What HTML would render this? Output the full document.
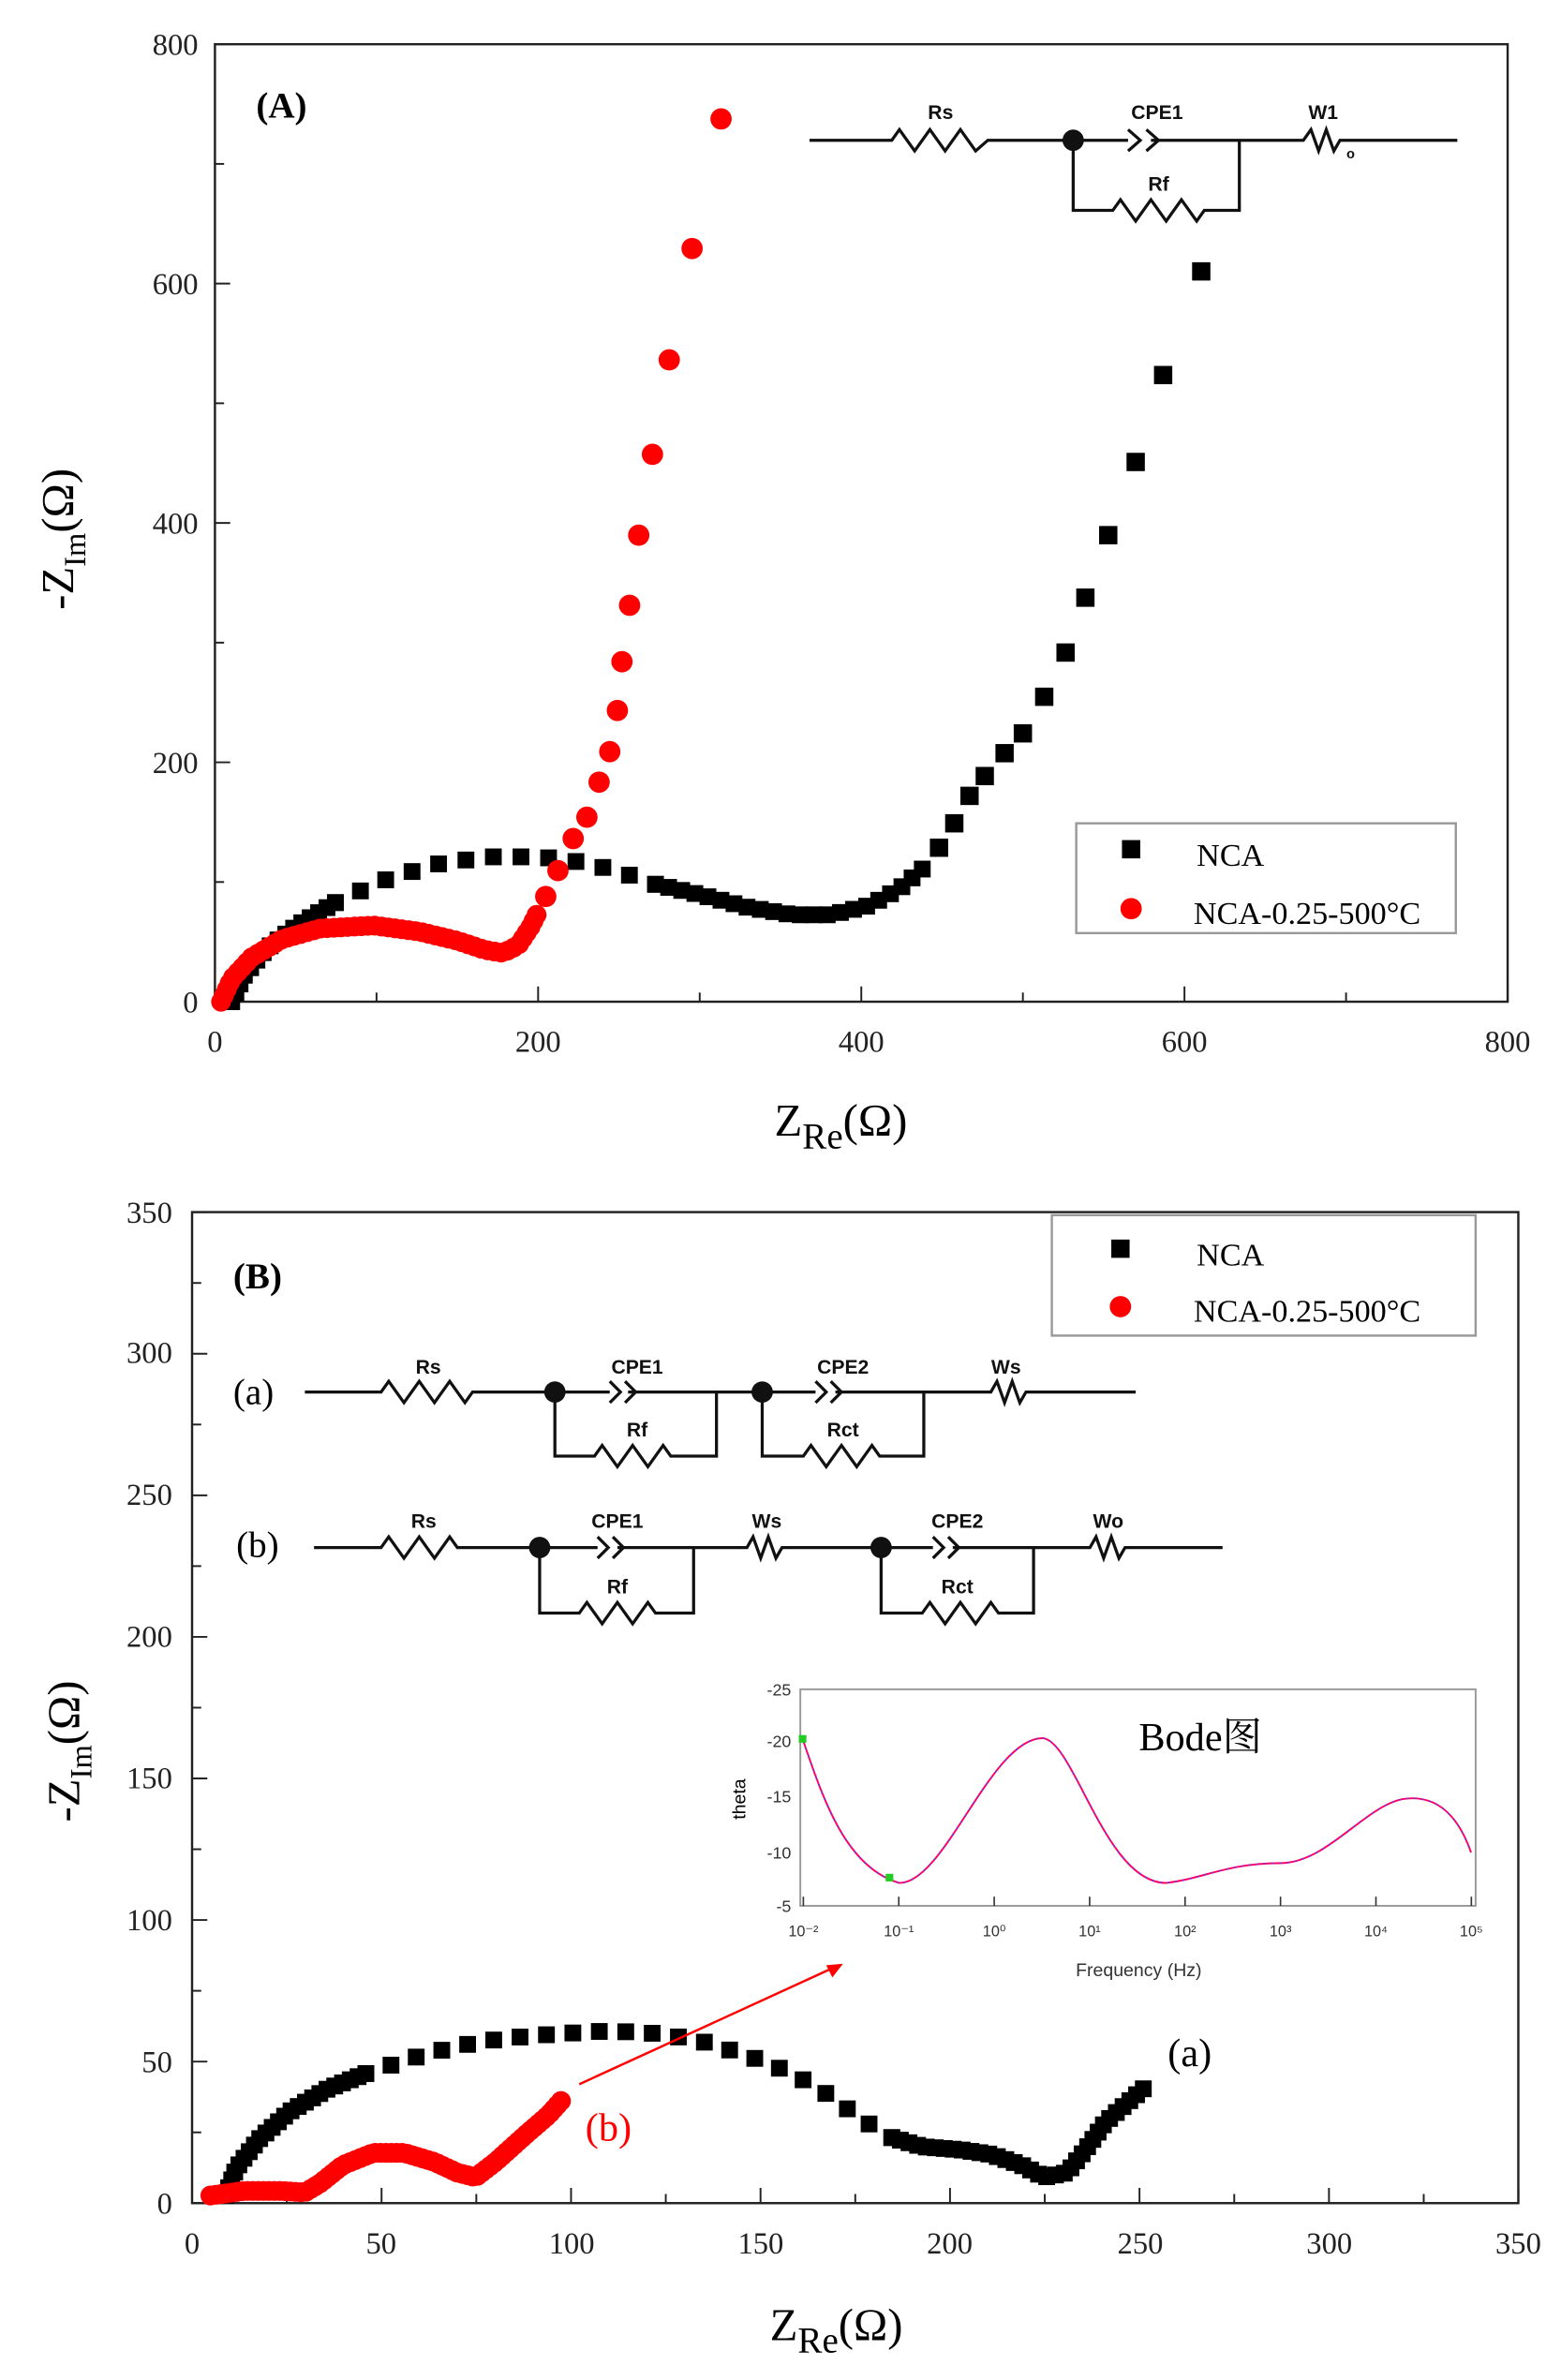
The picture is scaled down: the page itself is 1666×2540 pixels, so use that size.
<!DOCTYPE html>
<html><head><meta charset="utf-8"><style>html,body{margin:0;padding:0;background:#fff}svg{display:block}</style></head>
<body>
<svg id="s" width="1666" height="2540" viewBox="0 0 1024 1561" preserveAspectRatio="none" xmlns="http://www.w3.org/2000/svg" font-family="Liberation Serif, serif">
<rect width="1024" height="1561" fill="#fff"/>
<!-- Panel A -->
<rect x="141" y="29" width="848" height="628" fill="none" stroke="#222" stroke-width="1.5"/>
<g font-size="20" fill="#222" text-anchor="end">
<text x="130" y="664">0</text><text x="130" y="507">200</text><text x="130" y="350">400</text><text x="130" y="193">600</text><text x="130" y="36">800</text></g>
<g font-size="20" fill="#222" text-anchor="middle">
<text x="141" y="690">0</text><text x="353" y="690">200</text><text x="565" y="690">400</text><text x="777" y="690">600</text><text x="989" y="690">800</text></g>
<g stroke="#222" stroke-width="1.2" id="ticksA"></g>
<text x="168" y="77" font-size="24" font-weight="bold">(A)</text>
<text transform="translate(48,400) rotate(-90)" font-size="30">-Z<tspan font-size="20" dy="8">Im</tspan><tspan dy="-8">(Ω)</tspan></text>
<text x="508" y="745" font-size="30">Z<tspan font-size="24" dy="8">Re</tspan><tspan dy="-8">(Ω)</tspan></text>
<g stroke="#111" stroke-width="2" fill="none">
<path d="M531 92H585l5 -7l10 14l10 -14l10 14l10 -14l10 14l8 -7H740"/>
<path d="M740 85l8 7l-8 7M752 85l8 7l-8 7"/>
<path d="M755 92H855l5 -7l5 14l5 -14l5 14l4 -7H956"/>
<path d="M704 92V138H730l5 -7l10 14l10 -14l10 14l10 -14l10 14l5 -7H813V92"/>
</g>
<circle cx="704" cy="92" r="7" fill="#111"/>
<g font-family="Liberation Sans, sans-serif" font-weight="bold" font-size="13" fill="#111" text-anchor="middle">
<text x="617" y="78">Rs</text><text x="759" y="78">CPE1</text><text x="760" y="125">Rf</text><text x="868" y="78">W1</text><text x="886" y="104" font-size="9">o</text></g>
<rect x="706" y="540" width="249" height="72" fill="#fff" stroke="#999" stroke-width="1.5"/>
<rect x="736" y="551" width="12" height="12" fill="#000"/>
<circle cx="742" cy="596" r="7" fill="#f00"/>
<text x="785" y="568" font-size="21">NCA</text>
<text x="783" y="606" font-size="21">NCA-0.25-500°C</text>
<g id="A"></g>
<!-- Panel B -->
<rect x="126" y="795" width="870" height="650" fill="none" stroke="#222" stroke-width="1.5"/>
<g font-size="20" fill="#222" text-anchor="end">
<text x="113" y="1452">0</text><text x="113" y="1359">50</text><text x="113" y="1266">100</text><text x="113" y="1173">150</text><text x="113" y="1080">200</text><text x="113" y="987">250</text><text x="113" y="894">300</text><text x="113" y="802">350</text></g>
<g font-size="20" fill="#222" text-anchor="middle">
<text x="126" y="1478">0</text><text x="250" y="1478">50</text><text x="375" y="1478">100</text><text x="499" y="1478">150</text><text x="623" y="1478">200</text><text x="748" y="1478">250</text><text x="872" y="1478">300</text><text x="996" y="1478">350</text></g>
<g stroke="#222" stroke-width="1.2" id="ticksB"></g>
<text x="153" y="845" font-size="24" font-weight="bold">(B)</text>
<text transform="translate(52,1195) rotate(-90)" font-size="30">-Z<tspan font-size="20" dy="8">Im</tspan><tspan dy="-8">(Ω)</tspan></text>
<text x="505" y="1535" font-size="30">Z<tspan font-size="24" dy="8">Re</tspan><tspan dy="-8">(Ω)</tspan></text>
<rect x="690" y="797" width="278" height="79" fill="#fff" stroke="#999" stroke-width="1.5"/>
<rect x="729" y="813" width="12" height="12" fill="#000"/>
<circle cx="735" cy="857" r="7" fill="#f00"/>
<text x="785" y="830" font-size="21">NCA</text>
<text x="783" y="867" font-size="21">NCA-0.25-500°C</text>
<text x="153" y="921" font-size="24">(a)</text>
<text x="155" y="1021" font-size="24">(b)</text>
<g stroke="#111" stroke-width="2" fill="none">
<path d="M200 913H250l5 -7l10 14l10 -14l10 14l10 -14l10 14l5 -7H400M400 906l7 7l-7 7M410 906l7 7l-7 7M412 913H535M535 906l7 7l-7 7M545 906l7 7l-7 7M548 913H650l4 -7l5 14l5 -14l5 14l4 -7H745"/>
<path d="M364 913V955H390l5 -7l10 14l10 -14l10 14l10 -14l5 7H470V913"/>
<path d="M500 913V955H527l5 -7l10 14l10 -14l10 14l10 -14l5 7H606V913"/>
<path d="M206 1015H250l5 -7l10 14l10 -14l10 14l10 -14l5 7H392M392 1008l7 7l-7 7M402 1008l7 7l-7 7M405 1015H490l4 -7l5 14l5 -14l5 14l4 -7H612M612 1008l7 7l-7 7M622 1008l7 7l-7 7M625 1015H715l4 -7l5 14l5 -14l5 14l4 -7H802"/>
<path d="M354 1015V1058H380l5 -7l10 14l10 -14l10 14l10 -14l5 7H455V1015"/>
<path d="M578 1015V1058H605l5 -7l10 14l10 -14l10 14l10 -14l5 7H678V1015"/>
</g>
<g fill="#111"><circle cx="364" cy="913" r="7"/><circle cx="500" cy="913" r="7"/><circle cx="354" cy="1015" r="7"/><circle cx="578" cy="1015" r="7"/></g>
<g font-family="Liberation Sans, sans-serif" font-weight="bold" font-size="13" fill="#111" text-anchor="middle">
<text x="281" y="901">Rs</text><text x="418" y="901">CPE1</text><text x="418" y="942">Rf</text><text x="553" y="901">CPE2</text><text x="553" y="942">Rct</text><text x="660" y="901">Ws</text>
<text x="278" y="1002">Rs</text><text x="405" y="1002">CPE1</text><text x="405" y="1045">Rf</text><text x="503" y="1002">Ws</text><text x="628" y="1002">CPE2</text><text x="628" y="1045">Rct</text><text x="727" y="1002">Wo</text></g>
<!-- Bode inset -->
<rect x="525" y="1108" width="443" height="142" fill="#fff" stroke="#999" stroke-width="1.2"/>
<g font-family="Liberation Sans, sans-serif" font-size="11" fill="#333" text-anchor="end">
<text x="519" y="1112">-25</text><text x="519" y="1146">-20</text><text x="519" y="1182">-15</text><text x="519" y="1219">-10</text><text x="519" y="1254">-5</text></g>
<g font-family="Liberation Sans, sans-serif" font-size="10" fill="#333" text-anchor="middle" id="bx"></g>
<text transform="translate(489,1180) rotate(-90)" font-family="Liberation Sans, sans-serif" font-size="12" text-anchor="middle">theta</text>
<text x="747" y="1296" font-family="Liberation Sans, sans-serif" font-size="12" text-anchor="middle" fill="#333">Frequency (Hz)</text>
<text x="747" y="1148" font-size="26" font-family="Liberation Serif, Noto Serif CJK SC, serif">Bode图</text>
<path d="M527 1142 C540 1180,555 1225,590 1235 C620 1235,650 1140,684 1140 C705 1142,725 1235,765 1235 C790 1232,805 1222,840 1222 C870 1222,895 1185,920 1180 C945 1176,958 1195,965 1215" fill="none" stroke="#f06" stroke-width="1.2"/>
<path d="M527 1142 C540 1180,555 1225,590 1235 C620 1235,650 1140,684 1140 C705 1142,725 1235,765 1235 C790 1232,805 1222,840 1222 C870 1222,895 1185,920 1180 C945 1176,958 1195,965 1215" fill="none" stroke="#44f" stroke-width="1" stroke-dasharray="1 4"/>
<rect x="524" y="1138" width="5" height="5" fill="#2c2"/><rect x="581" y="1229" width="5" height="5" fill="#2c2"/>
<g id="B"></g>
<line x1="380" y1="1367" x2="548" y2="1290" stroke="#f00" stroke-width="1.5"/>
<path d="M553 1288 L542 1289 L546 1297Z" fill="#f00"/>
<text x="384" y="1404" font-size="26" fill="#f00">(b)</text>
<text x="766" y="1355" font-size="26">(a)</text>
</svg>
<script>
var NS="http://www.w3.org/2000/svg";
function el(p,t,a){var e=document.createElementNS(NS,t);for(var k in a)e.setAttribute(k,a[k]);document.getElementById(p).appendChild(e);}
function seg(g,pts,n,type,sz){
 var L=[0];for(var i=1;i<pts.length;i++){L.push(L[i-1]+Math.hypot(pts[i][0]-pts[i-1][0],pts[i][1]-pts[i-1][1]));}
 var T=L[L.length-1];
 for(var j=0;j<n;j++){var d=T*j/(n-1);var i=1;while(i<pts.length-1&&L[i]<d)i++;
  var f=(d-L[i-1])/((L[i]-L[i-1])||1);var x=pts[i-1][0]+f*(pts[i][0]-pts[i-1][0]),y=pts[i-1][1]+f*(pts[i][1]-pts[i-1][1]);
  if(type=='s')el(g,'rect',{x:x-sz/2,y:y-sz/2,width:sz,height:sz,fill:'#000'});else el(g,'circle',{cx:x,cy:y,r:sz,fill:'#f00'});}
}
for(var v=0;v<=800;v+=100){var px=141+v*1.06;el('ticksA','line',{x1:px,y1:657,x2:px,y2:v%200?651:647});var py=657-v*0.785;el('ticksA','line',{x1:141,y1:py,x2:v%200?147:151,y2:py});}
for(var v=0;v<=350;v+=25){var px=126+v*2.486;el('ticksB','line',{x1:px,y1:1445,x2:px,y2:v%50?1439:1435});var py=1445-v*1.857;el('ticksB','line',{x1:126,y1:py,x2:v%50?132:136,y2:py});}
var bx=['10⁻²','10⁻¹','10⁰','10¹','10²','10³','10⁴','10⁵'];
for(var i=0;i<8;i++){var t=document.createElementNS(NS,'text');t.setAttribute('x',527+i*62.6);t.setAttribute('y',1270);t.textContent=bx[i];document.getElementById('bx').appendChild(t);
 el('bx','line',{x1:527+i*62.6,y1:1250,x2:527+i*62.6,y2:1244,stroke:'#333'});}
// Panel A black
seg('A',[[152,657],[160,640],[175,622],[195,607],[220,592]],16,'s',11);
seg('A',[[220,592],[250,578],[285,567],[320,562],[355,562],[385,566],[410,573],[430,580]],13,'s',11);
seg('A',[[430,580],[460,587],[490,595],[520,600],[545,600],[570,594],[590,583],[605,570]],22,'s',11);
[[616,556],[626,540],[636,522],[646,509],[659,494],[671,481],[685,457],[699,428],[712,392],[727,351],[745,303],[763,246],[788,178]].forEach(function(p){el('A','rect',{x:p[0]-6,y:p[1]-6,width:12,height:12,fill:'#000'});});
// Panel A red
seg('A',[[145,657],[152,642],[165,628],[185,616],[210,609],[245,607],[275,611],[300,617],[318,623],[330,625],[340,620],[348,608],[352,600]],55,'c',6.5);
[[358,588],[366,571],[376,550],[385,536],[393,513],[400,493],[405,466],[408,434],[413,397],[419,351],[428,298],[439,236],[454,163],[473,78]].forEach(function(p){el('A','circle',{cx:p[0],cy:p[1],r:7,fill:'#f00'});});
// Panel B black
seg('B',[[148,1440],[155,1422],[170,1403],[190,1385],[215,1370],[240,1360]],24,'s',11);
seg('B',[[240,1360],[270,1350],[300,1342],[330,1337],[365,1334],[400,1332],[435,1334],[465,1340],[495,1350],[520,1360],[545,1375],[565,1390],[585,1402]],22,'s',11);
seg('B',[[585,1402],[605,1408],[630,1410],[650,1413],[670,1420],[685,1428],[700,1425],[712,1410],[725,1392],[750,1370]],34,'s',11);
// Panel B red
seg('B',[[138,1440],[160,1437],[185,1437],[200,1438],[210,1432],[225,1420],[245,1412],[265,1412],[285,1418],[300,1425],[312,1428],[325,1418],[345,1400],[360,1387],[368,1378]],75,'c',6.5);
</script>
</body></html>
